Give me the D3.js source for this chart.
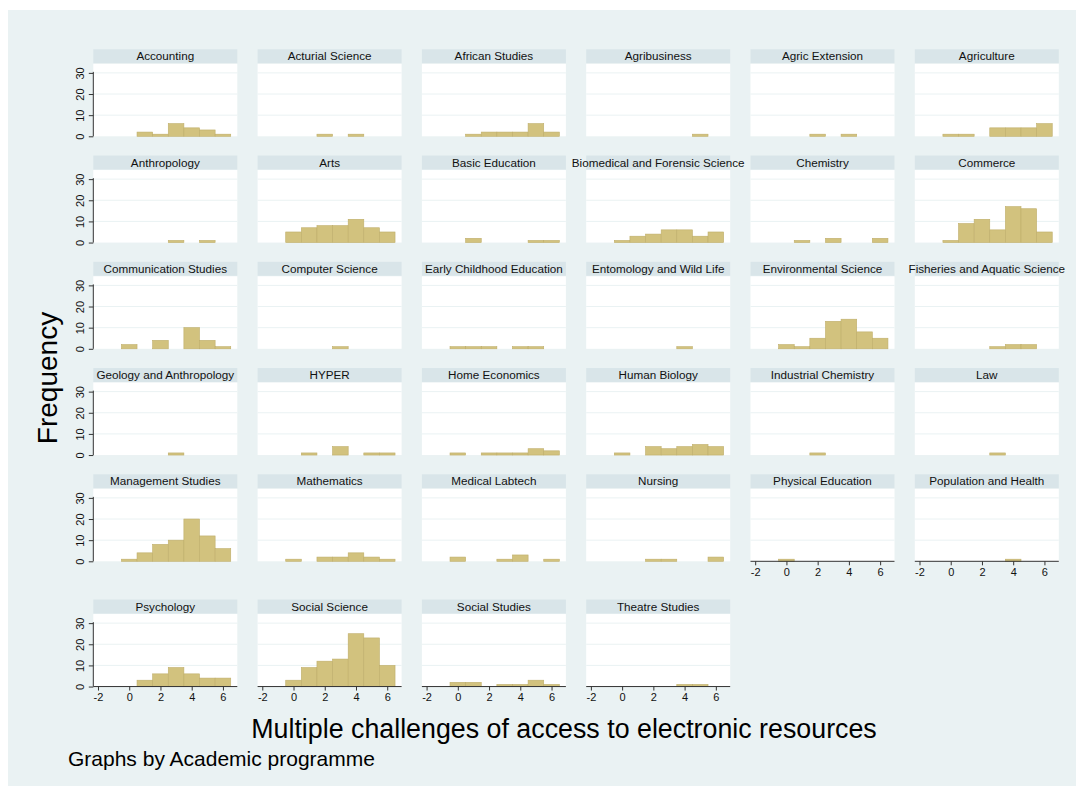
<!DOCTYPE html>
<html>
<head>
<meta charset="utf-8">
<script src="https://cdn.jsdelivr.net/npm/d3@7"></script>
<style>
  body { margin: 0; background: #ffffff; }
  text { font-family: Arial, "Liberation Sans", sans-serif; }
</style>
</head>
<body>
<div id="chart"></div>
<script>
// Programmes (one panel each), in the order Stata draws them
var programmes = [
  "Accounting", "Acturial Science", "African Studies", "Agribusiness", "Agric Extension", "Agriculture",
  "Anthropology", "Arts", "Basic Education", "Biomedical and Forensic Science", "Chemistry", "Commerce",
  "Communication Studies", "Computer Science", "Early Childhood Education", "Entomology and Wild Life", "Environmental Science", "Fisheries and Aquatic Science",
  "Geology and Anthropology", "HYPER", "Home Economics", "Human Biology", "Industrial Chemistry", "Law",
  "Management Studies", "Mathematics", "Medical Labtech", "Nursing", "Physical Education", "Population and Health",
  "Psychology", "Social Science", "Social Studies", "Theatre Studies"
]

// number of challenges (discrete bins)
var bins = [0, 1, 2, 3, 4, 5, 6]

// frequencies per programme, one value per bin
var frequencies = [
  [0, 2, 1, 6, 4, 3, 1],
  [0, 0, 1, 0, 1, 0, 0],
  [0, 1, 2, 2, 2, 6, 2],
  [0, 0, 0, 0, 0, 1, 0],
  [0, 0, 1, 0, 1, 0, 0],
  [1, 1, 0, 4, 4, 4, 6],
  [0, 0, 0, 1, 0, 1, 0],
  [5, 7, 8, 8, 11, 7, 5],
  [0, 2, 0, 0, 0, 1, 1],
  [1, 3, 4, 6, 6, 3, 5],
  [0, 1, 0, 2, 0, 0, 2],
  [1, 9, 11, 6, 17, 16, 5],
  [2, 0, 4, 0, 10, 4, 1],
  [0, 0, 0, 1, 0, 0, 0],
  [1, 1, 1, 0, 1, 1, 0],
  [0, 0, 0, 0, 1, 0, 0],
  [2, 1, 5, 13, 14, 8, 5],
  [0, 0, 0, 1, 2, 2, 0],
  [0, 0, 0, 1, 0, 0, 0],
  [0, 1, 0, 4, 0, 1, 1],
  [1, 0, 1, 1, 1, 3, 2],
  [1, 0, 4, 3, 4, 5, 4],
  [0, 0, 1, 0, 0, 0, 0],
  [0, 0, 0, 1, 0, 0, 0],
  [1, 4, 8, 10, 20, 12, 6],
  [1, 0, 2, 2, 4, 2, 1],
  [2, 0, 0, 1, 3, 0, 1],
  [0, 0, 1, 1, 0, 0, 2],
  [1, 0, 0, 0, 0, 0, 0],
  [0, 0, 0, 0, 1, 0, 0],
  [0, 3, 6, 9, 6, 4, 4],
  [3, 9, 12, 13, 25, 23, 10],
  [2, 2, 0, 1, 1, 3, 1],
  [0, 0, 0, 0, 1, 1, 0]
]

var xTicks = [-2, 0, 2, 4, 6]
var yTicks = [0, 10, 20, 30]
var gridTicks = [10, 20, 30]

var xTitle = "Multiple challenges of access to electronic resources"
var yTitle = "Frequency"
var note = "Graphs by Academic programme"

// chart dimensions
var width = 1084
var height = 797

var nCols = 6
var colStep = 164.3
var left0 = 93.3
var top0 = 49.3
var rowStep = 106.25
var axisGap = 19        // extra room when the row above carries an x axis

var stripH = 14
var plotW = 144
var plotH = 72.5

var barFill = "#d2c27e"
var barLine = "#bfae6a"
var stripFill = "#d9e5e9"
var bgFill = "#eaf2f3"

var svg = d3.select('#chart')
    .append('svg')
    .attr('width', width)
    .attr('height', height)

// graph region
svg.append('rect')
    .attr('x', 8)
    .attr('y', 10)
    .attr('width', 1068)
    .attr('height', 776)
    .attr('fill', bgFill)

// scales shared by every panel
var xScale = d3.scaleLinear().domain([-2.3, 6.92]).range([0, plotW])
var yScale = d3.scaleLinear().domain([0, 34.3]).range([plotH, 0])

var nRows = Math.ceil(programmes.length / nCols)

// is a panel at the bottom of its column (gets an x axis)
function isBottom (i) {
    return i + nCols >= programmes.length
}

// row tops, pushed down below rows that have an x axis somewhere
var rowTops = []
var y = top0
for (let r = 0; r < nRows; r++) {
    rowTops.push(y)
    let hasAxis = false
    for (let c = 0; c < nCols; c++) {
        let i = r * nCols + c
        if (i < programmes.length && isBottom(i)) hasAxis = true
    }
    y += rowStep + (hasAxis ? axisGap : 0)
}

var panelData = programmes.map((p, i) => {
    return {
        name: p,
        counts: frequencies[i],
        row: Math.floor(i / nCols),
        col: i % nCols,
        bottom: isBottom(i)
    }
})

var panels = svg.selectAll('.panel')
    .data(panelData)
    .enter()
    .append('g')
        .attr('class', 'panel')
        .attr('transform', d => "translate(" + (left0 + d.col * colStep) + "," + rowTops[d.row] + ")")

// strip with the programme name
panels.append('rect')
    .attr('x', 0)
    .attr('y', 0)
    .attr('width', plotW)
    .attr('height', stripH)
    .attr('fill', stripFill)

panels.append('text')
    .attr('x', plotW / 2)
    .attr('y', stripH / 2 + 4)
    .attr('text-anchor', 'middle')
    .attr('font-size', '11.7px')
    .attr('fill', '#111')
    .text(d => d.name)

// plot region
var plots = panels.append('g')
    .attr('transform', "translate(0," + (stripH + 0.5) + ")")

plots.append('rect')
    .attr('width', plotW)
    .attr('height', plotH)
    .attr('fill', '#ffffff')

plots.selectAll('.grid')
    .data(gridTicks)
    .enter()
    .append('line')
        .attr('class', 'grid')
        .attr('x1', 0)
        .attr('x2', plotW)
        .attr('y1', d => yScale(d))
        .attr('y2', d => yScale(d))
        .attr('stroke', bgFill)
        .attr('stroke-width', 1)

// histogram bars, discrete bins of width 1 centred on each value
plots.selectAll('.bar')
    .data(d => bins.map((b, k) => ({ bin: b, count: d.counts[k] })).filter(e => e.count > 0))
    .enter()
    .append('rect')
        .attr('class', 'bar')
        .attr('x', e => xScale(e.bin - 0.5))
        .attr('width', e => xScale(e.bin + 0.5) - xScale(e.bin - 0.5))
        .attr('y', e => yScale(e.count))
        .attr('height', e => yScale(0) - yScale(e.count))
        .attr('fill', barFill)
        .attr('stroke', barLine)
        .attr('stroke-width', 0.6)

// y axis on the first column
var yAxis = d3.axisLeft(yScale)
    .tickValues(yTicks)
    .tickFormat(d => String(d))
    .tickSize(4.5)
    .tickPadding(2)

plots.filter(d => d.col === 0)
    .append('g')
        .attr('class', 'y-axis')
        .call(yAxis)
        .call(g => g.select('.domain').attr('d', "M0," + yScale(0) + "V" + (yScale(30) - 1)).attr('stroke', '#333'))
        .call(g => g.selectAll('.tick line').attr('stroke', '#333'))
        .call(g => g.selectAll('.tick text')
            .attr('font-size', '11px')
            .attr('font-family', 'Arial, "Liberation Sans", sans-serif')
            .attr('fill', '#111')
            .attr('text-anchor', 'middle')
            .attr('x', 0)
            .attr('dy', 0)
            .attr('transform', 'translate(-9.5,0) rotate(-90)'))

// x axis on the bottom panel of each column (plain hyphen for negatives, as Stata prints)
var xAxis = d3.axisBottom(xScale)
    .tickValues(xTicks)
    .tickFormat(d => String(d))
    .tickSize(4)
    .tickPadding(3)

plots.filter(d => d.bottom)
    .append('g')
        .attr('class', 'x-axis')
        .attr('transform', "translate(0," + plotH + ")")
        .call(xAxis)
        .call(g => g.select('.domain').attr('d', "M0,0H" + plotW).attr('stroke', '#333'))
        .call(g => g.selectAll('.tick line').attr('stroke', '#333'))
        .call(g => g.selectAll('.tick text')
            .attr('font-size', '11px')
            .attr('font-family', 'Arial, "Liberation Sans", sans-serif')
            .attr('fill', '#111'))

// titles
svg.append('text')
    .attr('transform', "translate(57,378) rotate(-90)")
    .attr('text-anchor', 'middle')
    .attr('font-size', '28px')
    .attr('fill', '#000')
    .text(yTitle)

svg.append('text')
    .attr('x', 564)
    .attr('y', 738)
    .attr('text-anchor', 'middle')
    .attr('font-size', '26.8px')
    .attr('fill', '#000')
    .text(xTitle)

svg.append('text')
    .attr('x', 68)
    .attr('y', 766)
    .attr('font-size', '21px')
    .attr('fill', '#000')
    .text(note)
</script>
</body>
</html>
